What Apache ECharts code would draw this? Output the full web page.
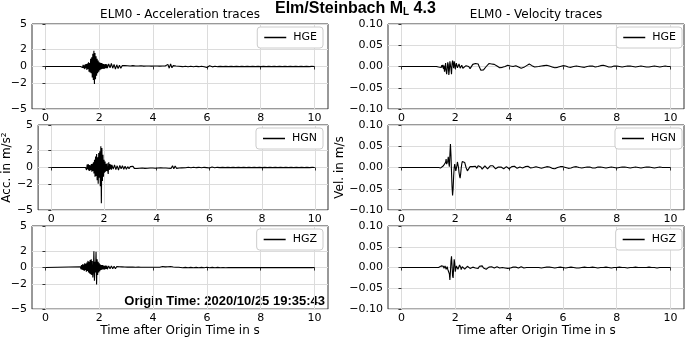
<!DOCTYPE html>
<html>
<head>
<meta charset="utf-8">
<script src="https://cdn.jsdelivr.net/npm/echarts@6/dist/echarts.min.js"></script>
<style>
  html, body { margin: 0; padding: 0; background: #fff; }
  #chart { width: 685px; height: 338px; }
</style>
</head>
<body>
<div id="chart"></div>
<script>
// sampling of the hand-read traces: burst 1.30 s + 0.02 s, coda 2.30 s + 0.05 s, tail 5.0 s + 0.1 s
const burstStart = 1.3, burstStep = 0.02;
const codaStart = 2.3, codaStep = 0.05;
const tailStart = 5.0, tailStep = 0.1;

const xTicks = [0, 2, 4, 6, 8, 10];
const accTicks = [-5, -2, 0, 2, 5];
const channels = ["HGE", "HGN", "HGZ"];

// acceleration, m/s^2
const accHgeBurst = [
  0, 0.05, -0.1, 0.15, -0.12, 0.2, -0.2, 0.15, -0.3, 0.25,
  -0.2, 0.3, -0.4, 0.35, -0.3, 0.5, -0.6, 0.4, -0.7, 0.9,
  -0.8, 1.1, -1.3, 1.5, -1.6, 1.85, -2.05, 1.6, -1.5, 1.2,
  -1.1, 0.9, -0.8, 0.7, -0.6, 0.5, -0.45, 0.45, -0.35, 0.4,
  -0.3, 0.35, -0.25, 0.3, -0.3, 0.25, -0.2, 0.3, -0.2, 0.25
];
const accHgeCoda = [
  -0.2, 0.3, -0.15, 0.35, -0.2, 0.25, -0.3, 0.2, -0.25, 0.15,
  -0.2, 0.1, -0.1, 0.1, -0.05, 0.08, -0.1, 0.05, -0.08, 0.1,
  -0.05, 0.06, -0.08, 0.05, -0.05, 0.08, -0.06, 0.04, -0.05, 0.06,
  -0.04, 0.05, -0.06, 0.04, -0.05, 0.06, -0.04, 0.05, -0.05, 0.04,
  -0.06, 0.05, -0.04, 0.06, -0.1, 0.25, -0.2, 0.3, -0.15, 0.1,
  -0.08, 0.05, -0.04, 0.03
];
const accHgeTail = [
  0.03, -0.02, 0.03, -0.03, 0.02, -0.03, 0.02, -0.02, 0.03, -0.02,
  -0.12, 0.08, -0.04, 0.03, -0.02, 0.02, -0.02, 0.02, -0.02, 0.02,
  -0.02, 0.02, -0.02, 0.02, -0.01, 0.02, -0.01, 0.01, -0.02, 0.01,
  -0.01, 0.02, -0.01, 0.01, -0.01, 0.01, -0.01, 0.01, -0.01, 0.01,
  -0.01, 0.01, -0.01, 0.01, -0.01, 0.01, -0.01, 0.01, -0.01, 0.01
];
const accHgnBurst = [
  0, 0.2, -0.3, 0.35, -0.2, 0.4, -0.35, 0.3, -0.4, 0.25,
  -0.3, 0.4, -0.5, 0.45, -0.4, 0.6, -0.7, 0.9, -1.1, 1.3,
  -1.0, 1.6, -1.5, 1.2, -1.9, 1.7, -1.2, 1.9, -2.2, 2.5,
  -4.2, 2.3, -1.6, 1.5, -1.1, 0.9, -0.6, 0.7, -0.5, 0.4,
  -0.4, 0.5, -0.3, -0.75, 0.6, -0.3, 0.4, -0.2, 0.35, -0.25
];
const accHgnCoda = [
  0.3, -0.2, 0.3, -0.25, 0.2, -0.3, 0.25, -0.15, 0.2, -0.2,
  0.15, -0.2, 0.1, -0.15, 0.12, -0.1, 0.15, -0.1, 0.08, -0.12,
  0.1, -0.08, 0.12, -0.06, 0.08, -0.1, 0.06, -0.08, 0.05, -0.06,
  0.08, -0.05, 0.06, -0.08, 0.05, -0.06, 0.05, -0.04, 0.06, -0.05,
  0.04, -0.06, 0.05, -0.08, 0.12, -0.1, 0.2, -0.15, 0.18, -0.1,
  0.08, -0.06, 0.05, -0.04
];
const accHgnTail = [
  0.03, -0.03, 0.02, -0.03, 0.03, -0.02, 0.02, -0.03, 0.02, -0.02,
  -0.06, 0.05, -0.03, 0.02, -0.02, 0.02, -0.02, 0.02, -0.01, 0.02,
  -0.02, 0.01, -0.01, 0.02, -0.01, 0.01, -0.01, 0.01, -0.02, 0.01,
  -0.01, 0.01, -0.01, 0.01, -0.01, 0.01, -0.01, 0.01, -0.01, 0.01,
  -0.01, 0.01, -0.01, 0.01, -0.01, 0.01, -0.01, 0.01, -0.01, 0.01
];
const accHgzBurst = [
  0.1, -0.2, 0.3, -0.25, 0.4, -0.3, 0.35, -0.4, 0.5, -0.3,
  0.45, -0.5, 0.6, -0.4, 0.8, -0.6, 0.7, -0.7, 0.9, -0.8,
  1.0, -0.9, 0.8, -1.2, -0.4, 1.95, -1.6, 0.7, -0.6, 1.9,
  -2.05, 1.0, -0.9, 0.7, -0.6, 0.5, -0.45, 0.35, -0.3, 0.3,
  -0.25, 0.3, -0.2, 0.25, -0.25, 0.2, -0.2, 0.25, -0.15, 0.2
];
const accHgzCoda = [
  -0.2, 0.2, -0.15, 0.2, -0.15, 0.15, -0.15, 0.12, -0.12, 0.1,
  -0.1, 0.08, -0.08, 0.06, -0.06, 0.05, -0.06, 0.05, -0.04, 0.05,
  -0.05, 0.04, -0.04, 0.05, -0.03, 0.04, -0.04, 0.03, -0.04, 0.03,
  -0.03, 0.04, -0.03, 0.03, -0.04, 0.03, -0.03, 0.04, -0.03, 0.03,
  -0.1, 0.12, -0.1, 0.08, -0.1, 0.1, -0.08, 0.12, -0.1, 0.06,
  -0.05, 0.04, -0.03, 0.03
];
const accHgzTail = [
  0.02, -0.02, 0.02, -0.02, 0.02, -0.02, 0.02, -0.02, 0.02, -0.02,
  0.03, -0.03, 0.02, -0.02, 0.02, -0.02, 0.01, -0.02, 0.01, -0.01,
  0.01, -0.01, 0.01, -0.01, 0.01, -0.01, 0.01, -0.01, 0.01, -0.01,
  0.01, -0.01, 0.01, -0.01, 0.01, -0.01, 0.01, -0.01, 0.01, -0.01,
  0.01, -0.01, 0.01, -0.01, 0.01, -0.01, 0.01, -0.01, 0.01, -0.01
];

// velocity, m/s
const velHgeBurst = [
  0, 0.001, -0.001, 0.002, -0.001, 0.002, -0.002, 0.001, 0.002, -0.002,
  0.003, -0.002, 0.004, -0.006, 0.002, -0.012, -0.004, 0.008, -0.01, -0.018,
  -0.006, 0.01, 0.004, -0.02, -0.008, 0.012, 0.015, -0.005, -0.018, 0.006,
  0.014, 0.01, -0.004, 0.012, 0.005, -0.006, 0.002, 0.008, 0.004, -0.003,
  -0.006, 0.001, 0.006, 0.002, -0.004, -0.007, -0.002, 0.003, 0.002, -0.004
];
const velHgeCoda = [
  -0.004, -0.002, 0.002, 0.004, 0.0, -0.005, -0.001, 0.005, 0.003, 0.007,
  0.01, 0.006, -0.002, -0.009, -0.012, -0.008, -0.004, 0.0, 0.004, 0.007,
  0.007, 0.006, 0.005, 0.005, 0.003, 0.001, -0.001, -0.003, -0.003, -0.002,
  -0.001, 0.0, 0.001, 0.003, 0.003, 0.001, -0.001, 0.0, 0.002, 0.002,
  0.001, -0.001, -0.003, -0.004, -0.004, -0.002, 0.001, 0.002, 0.004, 0.006,
  0.005, 0.002, -0.001, -0.001
];
const velHgeTail = [
  -0.002, 0.0, 0.001, 0.002, 0.003, 0.001, -0.001, -0.003, -0.002, 0.0,
  0.002, 0.001, -0.001, -0.002, 0.0, 0.001, 0.0, -0.001, -0.002, 0.0,
  0.001, 0.001, -0.001, 0.0, 0.002, 0.003, 0.001, -0.001, -0.001, 0.001,
  0.001, 0.0, -0.001, 0.0, 0.001, 0.001, 0.0, -0.001, 0.0, 0.001,
  0.0, -0.001, -0.001, 0.0, 0.001, 0.0, -0.001, 0.0, 0.001, 0.0
];
const velHgnBurst = [
  0, 0.001, -0.001, 0.002, 0.0, -0.001, 0.002, 0.001, -0.001, 0.002,
  0.001, 0.003, 0.002, 0.004, 0.006, 0.003, 0.001, 0.012, 0.02, 0.008,
  0.004, 0.015, 0.025, 0.01, 0.002, 0.03, 0.055, 0.03, -0.01, -0.045,
  -0.066, -0.05, -0.02, 0.0, 0.008, 0.004, -0.008, -0.01, 0.004, 0.013,
  0.01, 0.0, -0.012, -0.02, -0.025, -0.015, -0.002, 0.008, 0.014, 0.017
];
const velHgnCoda = [
  0.018, 0.012, 0.0, -0.008, -0.004, 0.002, 0.005, 0.002, 0.006, 0.003,
  -0.002, 0.004, 0.006, 0.001, -0.004, 0.0, 0.004, 0.001, -0.003, 0.0,
  0.004, 0.006, 0.004, 0.0, -0.003, -0.002, 0.001, 0.003, 0.001, -0.002,
  -0.003, 0.0, 0.002, 0.001, -0.003, -0.002, 0.002, 0.004, 0.003, 0.0,
  -0.002, -0.001, 0.001, 0.0, -0.001, 0.001, 0.002, 0.0, 0.003, 0.002,
  -0.001, -0.002, 0.0, 0.001
];
const velHgnTail = [
  0.002, 0.0, -0.002, 0.0, 0.002, 0.001, -0.002, -0.003, 0.0, 0.002,
  0.002, 0.0, -0.002, -0.001, 0.001, 0.002, 0.0, -0.001, 0.0, 0.001,
  0.001, -0.001, -0.001, 0.001, 0.001, 0.0, -0.001, 0.0, 0.001, 0.0,
  -0.001, 0.0, 0.001, 0.001, 0.0, -0.001, 0.0, 0.001, 0.0, -0.001,
  0.0, 0.001, 0.001, 0.0, -0.001, 0.0, 0.001, 0.0, 0.0, 0.0
];
const velHgzBurst = [
  0, 0.001, -0.001, 0.002, 0.0, 0.003, -0.001, 0.002, 0.001, 0.004,
  0.002, 0.005, 0.007, 0.003, -0.002, 0.001, 0.004, 0.0, -0.004, -0.002,
  0.002, -0.004, -0.008, -0.005, -0.015, -0.03, -0.01, 0.015, 0.027, 0.005,
  -0.02, -0.025, 0.0, 0.02, 0.01, -0.01, -0.006, 0.004, 0.007, 0.002,
  -0.004, -0.006, 0.0, 0.006, 0.007, 0.001, -0.005, -0.004, 0.002, 0.006
];
const velHgzCoda = [
  0.004, -0.004, -0.005, 0.003, 0.005, -0.002, -0.005, 0.001, 0.004, -0.001,
  -0.004, -0.002, 0.003, 0.006, 0.004, -0.001, -0.004, -0.004, -0.001, 0.001,
  0.002, 0.002, 0.001, -0.001, 0.001, 0.002, 0.001, -0.001, -0.001, 0.0,
  0.0, -0.001, -0.001, -0.002, -0.002, -0.001, 0.0, 0.001, -0.001, 0.001,
  0.0, -0.001, 0.001, 0.002, 0.0, -0.001, 0.001, 0.0, 0.002, 0.0,
  -0.001, 0.0, 0.001, 0.0
];
const velHgzTail = [
  0.001, 0.0, -0.001, 0.0, 0.001, 0.001, 0.0, -0.001, 0.0, 0.001,
  0.0, -0.001, 0.0, 0.001, 0.0, -0.001, -0.001, 0.0, 0.001, 0.0,
  0.0, 0.001, 0.0, -0.001, 0.0, 0.0, 0.001, 0.0, -0.001, 0.0,
  0.0, 0.001, 0.0, 0.0, -0.001, 0.0, 0.0, 0.001, 0.0, 0.0,
  0.0, 0.0, 0.001, 0.0, 0.0, -0.001, 0.0, 0.0, 0.0, 0.0
];

function trace(burst, coda, tail) {
  const pts = [[0, 0]];
  burst.forEach((v, i) => pts.push([+(burstStart + i * burstStep).toFixed(3), v]));
  coda.forEach((v, i) => pts.push([+(codaStart + i * codaStep).toFixed(3), v]));
  tail.forEach((v, i) => pts.push([+(tailStart + i * tailStep).toFixed(3), v]));
  pts.push([10, 0]);
  return pts;
}

const accData = [
  trace(accHgeBurst, accHgeCoda, accHgeTail),
  trace(accHgnBurst, accHgnCoda, accHgnTail),
  trace(accHgzBurst, accHgzCoda, accHgzTail)
];
const velData = [
  trace(velHgeBurst, velHgeCoda, velHgeTail),
  trace(velHgnBurst, velHgnCoda, velHgnTail),
  trace(velHgzBurst, velHgzCoda, velHgzTail)
];

const chart = echarts.init(document.getElementById("chart"), null, { renderer: "canvas" });

const FONT = "DejaVu Sans";
const colLeft = [32, 388];
const rowTop = [24, 125, 226];
const plotW = 296, plotH = 85;

const grids = [], xAxes = [], yAxes = [], series = [], legends = [];

for (let col = 0; col < 2; col++) {
  for (let row = 0; row < 3; row++) {
    const idx = grids.length;
    const isAcc = col === 0;
    grids.push({
      left: colLeft[col], top: rowTop[row], width: plotW, height: plotH,
      show: true, borderColor: "#333", borderWidth: 1, backgroundColor: "#fff"
    });
    xAxes.push({
      gridIndex: idx, type: "value", min: -0.5, max: 10.5,
      axisLine: { show: false },
      axisTick: { show: true, length: 3, lineStyle: { color: "#333" }, customValues: xTicks },
      axisLabel: { customValues: xTicks, margin: 4, color: "#000", fontFamily: FONT, fontSize: 11 },
      splitLine: { show: true, lineStyle: { color: "#dcdcdc", width: 1 } },
      name: row === 2 ? "Time after Origin Time in s" : "",
      nameLocation: "middle", nameGap: 13,
      nameTextStyle: { fontFamily: FONT, fontSize: 12, color: "#000" }
    });
    const y = {
      gridIndex: idx, type: "value",
      axisLine: { show: false },
      splitLine: { show: true, lineStyle: { color: "#dcdcdc", width: 1 } },
      name: row === 1 ? (isAcc ? "Acc. in m/s²" : "Vel. in m/s") : "",
      nameLocation: "middle", nameGap: isAcc ? 18 : 38,
      nameTextStyle: { fontFamily: FONT, fontSize: 12, color: "#000" }
    };
    if (isAcc) {
      Object.assign(y, {
        min: -5, max: 5,
        axisTick: { show: true, length: 3, lineStyle: { color: "#333" }, customValues: accTicks },
        axisLabel: {
          customValues: accTicks, margin: 5, color: "#000", fontFamily: FONT, fontSize: 11,
          formatter: v => (v < 0 ? "\u2212" + (-v) : String(v))
        }
      });
    } else {
      Object.assign(y, {
        min: -0.1, max: 0.1, interval: 0.05,
        axisTick: { show: true, length: 3, lineStyle: { color: "#333" } },
        axisLabel: {
          margin: 5, color: "#000", fontFamily: FONT, fontSize: 11,
          formatter: v => (v < -1e-9 ? "\u2212" : "") + Math.abs(v).toFixed(2)
        }
      });
    }
    yAxes.push(y);
    series.push({
      name: channels[row], type: "line",
      xAxisIndex: idx, yAxisIndex: idx,
      data: isAcc ? accData[row] : velData[row],
      symbol: "none", showSymbol: false, sampling: null,
      lineStyle: { color: "#000", width: 1.1 }, itemStyle: { color: "#000" },
      silent: true, animation: false
    });
    legends.push({
      data: [channels[row]],
      right: col === 0 ? 685 - 323 : 3,
      top: rowTop[row] + 3,
      icon: "rect", itemWidth: 22, itemHeight: 1.5, itemGap: 6,
      backgroundColor: "#fff", borderColor: "#ccc", borderWidth: 1, borderRadius: 3,
      padding: [5, 6, 5, 7],
      selectedMode: false,
      textStyle: { fontFamily: FONT, fontSize: 11, color: "#000", padding: [0, 0, 0, 2] }
    });
  }
}

chart.setOption({
  backgroundColor: "#fff",
  animation: false,
  grid: grids,
  xAxis: xAxes,
  yAxis: yAxes,
  legend: legends,
  series: series,
  graphic: [
    {
      type: "text", x: 275, y: -3,
      style: {
        text: "{a|Elm/Steinbach M}{s|L}{a| 4.3}",
        fill: "#000",
        rich: {
          a: { fontFamily: "Liberation Sans", fontWeight: "bold", fontSize: 16, lineHeight: 20, verticalAlign: "bottom" },
          s: { fontFamily: "Liberation Sans", fontWeight: "bold", fontSize: 10, lineHeight: 10, verticalAlign: "bottom" }
        }
      }
    },
    {
      type: "text", x: 180, y: 15,
      style: { text: "ELM0 - Acceleration traces", fill: "#000", font: "12px 'DejaVu Sans'", align: "center", verticalAlign: "middle" }
    },
    {
      type: "text", x: 536, y: 15,
      style: { text: "ELM0 - Velocity traces", fill: "#000", font: "12px 'DejaVu Sans'", align: "center", verticalAlign: "middle" }
    },
    {
      type: "text", x: 325, y: 301,
      style: { text: "Origin Time: 2020/10/25 19:35:43", fill: "#000", font: "bold 13px 'Liberation Sans'", align: "right", verticalAlign: "middle" }
    }
  ]
});
</script>
</body>
</html>
